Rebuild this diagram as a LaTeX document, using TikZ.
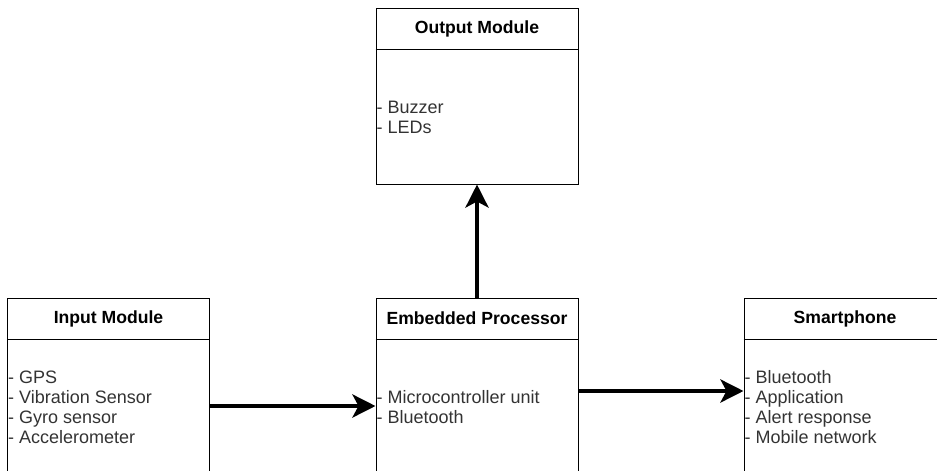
\documentclass[tikz,border=0pt]{standalone}
\usepackage{fontspec}
\setmainfont{Liberation Sans}
\usetikzlibrary{arrows.meta}
\definecolor{bodygray}{HTML}{333333}
\tikzset{
	block/.style={draw, line width=1pt, minimum width=202pt, minimum height=176pt, inner sep=0pt},
	title/.style={font=\fontsize{17.6}{20}\selectfont\bfseries, inner sep=0pt},
	body/.style={font=\fontsize{18}{20}\selectfont, text=bodygray, align=left, anchor=west, inner sep=0pt},
	conn/.style={line width=4.5pt, -{Stealth[length=23pt,width=23pt,inset=6pt]}}
}
\begin{document}
\begin{tikzpicture}[x=1pt,y=-1pt]
		\useasboundingbox (0,0) rectangle (937,471);
		\clip (0,0) rectangle (937,471);
		\node[block] (out) at (477,96) {};
		\node[block] (inp) at (108.5,386) {};
		\node[block] (emb) at (477,386) {};
		\node[block] (phone) at (845,386) {};
		\foreach \b in {out,inp,emb,phone}
			\draw[line width=1pt] ([yshift=-42pt]\b.north west) -- ([yshift=-42pt]\b.north east);
		\node[title] (outT) at ([yshift=-21pt]out.north) {Output Module};
		\node[title] (inpT) at ([yshift=-21pt]inp.north) {Input Module};
		\node[title] (embT) at ([yshift=-21pt]emb.north) {Embedded Processor};
		\node[title] (phoneT) at ([yshift=-21pt]phone.north) {Smartphone};
		\node[body] (outB) at ([xshift=1pt,yshift=-21pt]out.west) {- Buzzer\\- LEDs};
		\node[body] (inpB) at ([xshift=1pt,yshift=-21pt]inp.west) {- GPS\\- Vibration Sensor\\- Gyro sensor\\- Accelerometer};
		\node[body] (embB) at ([xshift=1pt,yshift=-21pt]emb.west) {- Microcontroller unit\\- Bluetooth};
		\node[body] (phoneB) at ([xshift=1pt,yshift=-21pt]phone.west) {- Bluetooth\\- Application\\- Alert response\\- Mobile network};
		\draw[conn] ([yshift=-20pt]inp.east) -- ([yshift=-20pt]emb.west);
		\draw[conn] ([yshift=-5pt]emb.east) -- ([yshift=-5pt]phone.west);
		\draw[conn] (emb.north) -- (out.south);
	\end{tikzpicture}
\end{document}
